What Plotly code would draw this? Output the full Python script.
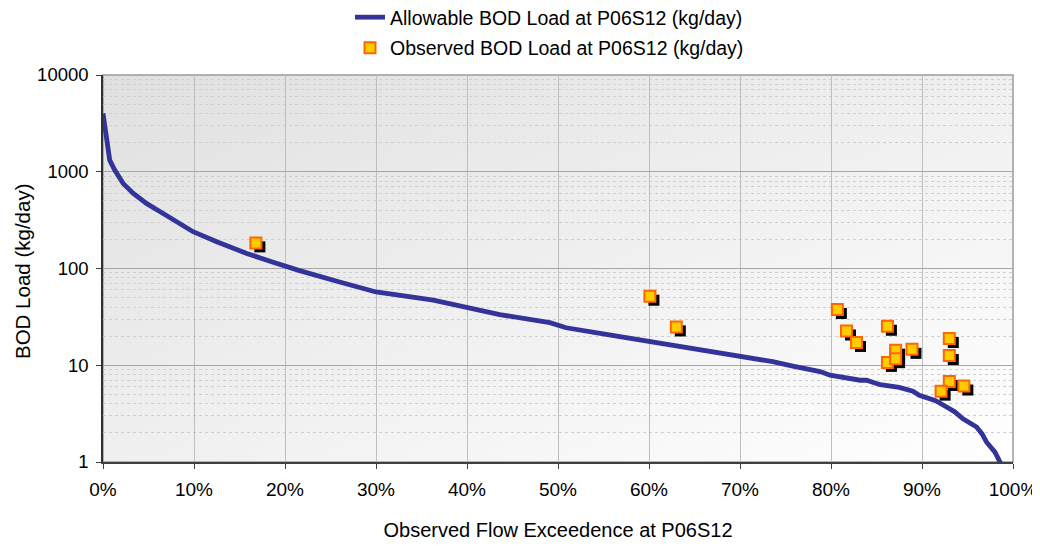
import base64
import plotly.graph_objects as go

# ---- data ----
curve_pct = [0, 0.3, 0.74, 1.29, 2.2, 3.3, 4.77, 6.2, 7.7, 9.9, 12.5, 15.8, 18.7, 21.6,
             26.0, 30.0, 36.3, 39.9, 43.6, 49.1, 50.9, 55.3, 59.9, 63.4, 67.0, 70.0,
             73.6, 75.8, 78.8, 79.9, 81.5, 83.2, 83.9, 85.4, 87.5, 89.0, 89.7, 90.3,
             91.5, 92.7, 93.6, 94.5, 95.3, 96.0, 96.6, 97.1, 98.0, 98.7, 99.1]
curve_load = [4010, 2390, 1318, 1040, 759, 600, 471, 390, 316, 240, 189, 143, 116, 95,
              72.6, 57.2, 47, 39.5, 33.4, 27.6, 24.4, 20.8, 17.8, 15.8, 13.8, 12.5,
              10.9, 9.8, 8.6, 7.9, 7.4, 7.0, 7.0, 6.3, 5.9, 5.4, 4.9, 4.7,
              4.3, 3.7, 3.3, 2.8, 2.55, 2.3, 1.95, 1.6, 1.27, 0.96, 0.8]

obs_pct = [16.8, 60.1, 63.0, 80.7, 81.7, 82.8, 86.2, 86.2, 87.1, 87.1, 88.9,
           93.0, 93.0, 93.0, 92.1, 94.6]
obs_load = [184, 51.7, 24.9, 37.7, 22.6, 17.2, 25.3, 10.7, 14.3, 11.7, 14.6,
            18.9, 12.6, 6.8, 5.4, 6.1]

x_ticks = [0, 10, 20, 30, 40, 50, 60, 70, 80, 90, 100]
x_ticktext = ["0%", "10%", "20%", "30%", "40%", "50%", "60%", "70%", "80%", "90%", "100%"]
y_ticks = [1, 10, 100, 1000, 10000]
y_ticktext = ["1", "10", "100", "1000", "10000"]
y_minor = [m * 10 ** d for d in range(0, 4) for m in range(2, 10)]

x_title = "Observed Flow Exceedence at P06S12"
y_title = "BOD Load (kg/day)"

# ---- layout geometry (page has an 8px body margin) ----
OFF = 8
W, H = 1040 - OFF, 546 - OFF
ML, MT = 103 - OFF, 75 - OFF
MR = W - (1013 - OFF)
MB = H - (462 - OFF)
pw = W - ML - MR
ph = H - MT - MB
shadow_px = 4
dx = 100 * shadow_px / pw
dy = 4 * shadow_px / ph

FONT = "Liberation Sans, Arial, sans-serif"

svg = ('<svg xmlns="http://www.w3.org/2000/svg" width="200" height="100" '
       'preserveAspectRatio="none"><defs><linearGradient id="g" x1="0" y1="0" '
       'x2="1" y2="1"><stop offset="0" stop-color="#E0E0E0"/>'
       '<stop offset="1" stop-color="#FFFFFF"/></linearGradient></defs>'
       '<rect width="200" height="100" fill="url(#g)"/></svg>')
svg_uri = "data:image/svg+xml;base64," + base64.b64encode(svg.encode()).decode()

fig = go.Figure()
fig.add_trace(go.Scatter(
    x=curve_pct, y=curve_load, mode="lines",
    name="Allowable BOD Load at P06S12 (kg/day)",
    line=dict(color="#333399", width=4.8),
    xaxis="x", yaxis="y", legend="legend"))
fig.add_trace(go.Scatter(
    x=obs_pct, y=obs_load, mode="markers", showlegend=False, hoverinfo="skip",
    marker=dict(symbol="square", size=11, color="black", line=dict(width=0)),
    xaxis="x2", yaxis="y2"))
fig.add_trace(go.Scatter(
    x=obs_pct, y=obs_load, mode="markers",
    name="Observed BOD Load at P06S12 (kg/day)",
    marker=dict(symbol="square", size=11, color="#FFCC00",
                line=dict(color="#FF6600", width=2)),
    xaxis="x3", yaxis="y3", legend="legend2"))

leg_x = (350 - OFF) / W
leg_common = dict(x=leg_x, xanchor="left", xref="container", yref="container",
                  yanchor="middle", font=dict(size=19.5), bgcolor="rgba(0,0,0,0)")

fig.update_layout(
    width=W, height=H,
    margin=dict(l=ML, r=MR, t=MT, b=MB, autoexpand=False),
    paper_bgcolor="white", plot_bgcolor="rgba(0,0,0,0)",
    font=dict(family=FONT, size=19, color="black"),
    showlegend=True,
    legend=dict(y=1 - (17.5 - OFF) / H, **leg_common),
    legend2=dict(y=1 - (48 - OFF) / H, **leg_common),
    images=[dict(source=svg_uri, xref="paper", yref="paper", x=0, y=1,
                 sizex=1, sizey=1, sizing="stretch", layer="below")],
    xaxis=dict(range=[0, 100], tickvals=x_ticks, ticktext=x_ticktext,
               automargin=False,
               showgrid=True, gridcolor="#BEBEBE", gridwidth=1,
               showline=True, linecolor="#404040", linewidth=1.5,
               ticks="outside", ticklen=5, tickcolor="#404040",
               ticklabelstandoff=4, tickfont=dict(size=19),
               zeroline=False,
               title=dict(text=x_title, font=dict(size=20), standoff=24)),
    yaxis=dict(type="log", range=[0, 4], tickvals=y_ticks, ticktext=y_ticktext,
               automargin=False,
               showgrid=True, gridcolor="#A6A6A6", gridwidth=1,
               showline=True, linecolor="#303030", linewidth=1.5,
               ticks="outside", ticklen=5, tickcolor="#404040",
               ticklabelstandoff=4, tickfont=dict(size=18.5),
               minor=dict(tickvals=y_minor, showgrid=True, gridcolor="#CFCFCF",
                          griddash="dot", gridwidth=1, ticks="")),
    xaxis2=dict(range=[-dx, 100 - dx], overlaying="x", visible=False),
    yaxis2=dict(type="log", range=[dy, 4 + dy], overlaying="y", visible=False),
    xaxis3=dict(range=[0, 100], overlaying="x", visible=False),
    yaxis3=dict(type="log", range=[0, 4], overlaying="y", visible=False),
    annotations=[dict(text=y_title, textangle=-90, showarrow=False,
                      xref="paper", yref="paper",
                      x=(22 - OFF - ML) / pw, y=1 - (272 - 75) / ph,
                      xanchor="center", yanchor="middle",
                      font=dict(size=20.5))],
    shapes=[dict(type="rect", xref="paper", yref="paper", x0=0, y0=0, x1=1, y1=1,
                 line=dict(color="#9A9A9A", width=1.5), layer="below")],
)

fig.write_html("out.html")
